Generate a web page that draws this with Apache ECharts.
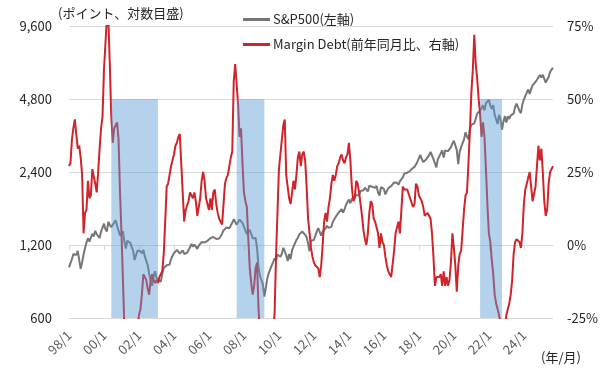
<!DOCTYPE html>
<html>
<head>
<meta charset="utf-8">
<script src="https://cdn.jsdelivr.net/npm/echarts@6/dist/echarts.min.js"></script>
<style>
html,body{margin:0;padding:0;background:#fff;}
#chart{width:605px;height:378px;}
</style>
</head>
<body>
<div id="chart"></div>
<script>
// Month categories 1998/1 .. 2025/9 (label format yy/m)
var startYear = 1998, monthCount = 333;
var categories = [];
for (var i = 0; i < monthCount; i++) {
  var y = startYear + Math.floor(i / 12), m = i % 12 + 1;
  categories.push(String(y % 100).padStart(2, '0') + '/' + m);
}

// S&P500 (points, left log axis)
var sp500 = [970,
980,1049,1102,1112,1091,1134,1121,957,1017,1099,1164,1229,
1280,1238,1286,1335,1302,1373,1329,1320,1283,1363,1389,1469,
1394,1366,1499,1452,1421,1455,1431,1518,1437,1429,1315,1320,
1366,1240,1160,1249,1256,1224,1211,1134,1041,1060,1139,1148,
1130,1107,1147,1077,1067,990,912,916,815,886,936,880,
856,841,848,917,964,975,990,1008,996,1051,1058,1112,
1131,1145,1126,1107,1121,1141,1102,1104,1115,1130,1174,1212,
1181,1204,1181,1157,1192,1191,1234,1220,1229,1207,1249,1248,
1280,1281,1295,1311,1270,1270,1277,1304,1336,1378,1401,1418,
1438,1407,1421,1482,1531,1503,1455,1474,1527,1549,1481,1468,
1379,1331,1323,1386,1400,1280,1267,1283,1166,969,896,903,
826,735,798,873,919,919,987,1021,1057,1036,1096,1115,
1074,1104,1169,1187,1089,1031,1102,1049,1141,1183,1181,1258,
1286,1327,1326,1364,1345,1321,1292,1219,1131,1253,1247,1258,
1312,1366,1408,1398,1310,1362,1379,1407,1441,1412,1416,1426,
1498,1515,1569,1598,1631,1606,1686,1633,1682,1757,1806,1848,
1783,1859,1872,1884,1924,1960,1931,2003,1972,2018,2068,2059,
1995,2105,2068,2086,2107,2063,2104,1972,1920,2079,2080,2044,
1940,1932,2060,2065,2097,2099,2174,2171,2168,2126,2199,2239,
2279,2364,2363,2384,2412,2423,2470,2472,2519,2575,2648,2674,
2824,2714,2641,2648,2705,2718,2816,2902,2914,2712,2760,2507,
2704,2784,2834,2946,2752,2942,2980,2926,2977,3038,3141,3231,
3226,2954,2585,2912,3044,3100,3271,3500,3363,3270,3622,3756,
3714,3811,3973,4181,4204,4298,4395,4523,4308,4605,4567,4766,
4516,4374,4530,4132,4132,3785,4130,3955,3586,3872,4080,3840,
4077,3970,4109,4169,4180,4450,4589,4508,4288,4194,4568,4770,
4846,5096,5254,5036,5278,5460,5522,5648,5762,5705,6032,5882,
6041,5955,5612,5569,5912,6205,6339,6460];

// Margin Debt, year-over-year change (%), right axis
var marginDebtYoY = [27,
28,36,40,43,38,33,34,30,24,4,11,12,
22,16,17,26,26,21,18,25,33,40,44,60,
60,78,77,62,44,35,40,40,42,36,18,4,
-12,-28,-35,-40,-44,-46,-45,-42,-38,-33,-28,-24,
-22,-17,-10,-11,-12,-15,-17,-12,-10,-12,-13,-12,
-13,-11,-10,-9,-3,8,20,21,24,27,29,31,
34,35,37,38,28,18,8,12,12,15,18,18,
16,18,15,10,13,16,22,25,22,16,14,12,
16,12,18,19,14,11,9,8,7,14,21,23,
24,27,30,32,56,62,62,48,37,40,28,18,
15,13,2,-8,-13,-17,-14,-8,-6,-22,-30,-38,
-45,-50,-52,-50,-47,-42,-35,-28,-24,-4,11,26,
31,36,41,43,24,20,16,14,14,22,19,24,
30,32,27,31,32,29,20,9,4,-1,-4,-6,
-7,-7,-8,-11,-7,0,8,11,8,13,16,21,
24,22,24,27,28,30,31,29,28,30,31,35,
29,20,15,16,22,21,18,14,10,5,2,0,
4,11,15,14,9,8,6,4,-1,4,1,0,
-4,-7,-9,-10,-11,-11,-2,4,6,8,4,12,
20,19,19,19,19,16,16,13,14,21,20,17,
17,15,13,10,10,11,10,9,4,-4,-14,-11,
-11,-11,-10,-14,-9,-14,-11,-14,-12,-6,4,-1,
-7,-16,-7,-3,-2,5,12,17,18,28,39,52,
60,72,62,57,50,45,37,42,37,26,14,4,
1,-5,-10,-17,-20,-22,-24,-27,-29,-30,-28,-24,
-22,-20,-17,-12,-3,1,2,2,1,-1,4,14,
19,21,23,25,20,15,15,20,27,34,29,33,
25,15,10,12,21,25,26,27];

// Shaded periods [from, to]
var shadePeriods = [['00/6','03/2'],['07/8','09/3'],['21/7','22/10']];
var leftTicks = [600, 1200, 2400, 4800, 9600];
var shadeTop = 4800, shadeBottom = 600;
var seriesNames = ['S&P500(左軸)', 'Margin Debt(前年同月比、右軸)'];

var FONT = '"Noto Sans CJK JP", "Noto Sans", sans-serif';
function fmtComma(v) {
  return String(Math.round(v)).replace(/\B(?=(\d{3})+(?!\d))/g, ',');
}

var chart = echarts.init(document.getElementById('chart'), null, {renderer: 'canvas'});
chart.setOption({
  animation: false,
  backgroundColor: '#ffffff',
  textStyle: {fontFamily: FONT},
  grid: {left: 69, right: 52, top: 26, bottom: 60, containLabel: false},
  legend: {
    data: seriesNames,
    orient: 'vertical',
    left: 238,
    top: 8,
    itemWidth: 27,
    itemHeight: 3,
    itemGap: 12,
    icon: 'rect',
    textStyle: {fontFamily: FONT, fontSize: 13, color: '#262626', padding: [0, 0, 0, -2]}
  },
  graphic: [
    {type: 'text', left: 58, top: 7, style: {text: '(ポイント、対数目盛)', font: '13px ' + FONT, fill: '#262626'}},
    {type: 'text', left: 541, top: 351, style: {text: '(年/月)', font: '13px ' + FONT, fill: '#262626'}}
  ],
  xAxis: {
    type: 'category',
    data: categories,
    boundaryGap: false,
    axisLine: {lineStyle: {color: '#d9d9d9', width: 1}},
    axisTick: {show: true, interval: 23, length: 5, lineStyle: {color: '#d9d9d9'}},
    axisLabel: {interval: 23, rotate: 45, margin: 15, color: '#595959', fontSize: 13, fontFamily: FONT},
    splitLine: {show: false}
  },
  yAxis: [
    {
      type: 'log',
      logBase: 2,
      min: 600,
      max: 9600,
      axisLine: {show: false},
      axisTick: {show: false},
      splitLine: {show: false},
      axisLabel: {customValues: leftTicks, formatter: fmtComma, margin: 17, color: '#262626', fontSize: 13, fontFamily: FONT}
    },
    {
      type: 'value',
      min: -25,
      max: 75,
      interval: 25,
      axisLine: {show: false},
      axisTick: {show: false},
      splitLine: {show: true, lineStyle: {color: '#d9d9d9', width: 1}},
      axisLabel: {formatter: '{value}%', margin: 14, color: '#262626', fontSize: 13, fontFamily: FONT}
    }
  ],
  series: [
    {
      name: seriesNames[0],
      type: 'line',
      yAxisIndex: 0,
      data: sp500,
      symbol: 'none',
      lineStyle: {color: '#767676', width: 2},
      itemStyle: {color: '#767676'},
      markArea: {
        silent: true,
        z: 10,
        itemStyle: {color: 'rgba(91,155,213,0.45)'},
        data: shadePeriods.map(function (p) {
          return [{xAxis: p[0], yAxis: shadeBottom}, {xAxis: p[1], yAxis: shadeTop}];
        })
      }
    },
    {
      name: seriesNames[1],
      type: 'line',
      yAxisIndex: 1,
      data: marginDebtYoY,
      symbol: 'none',
      lineStyle: {color: '#D0232A', width: 2},
      itemStyle: {color: '#D0232A'}
    }
  ]
});
</script>
</body>
</html>
